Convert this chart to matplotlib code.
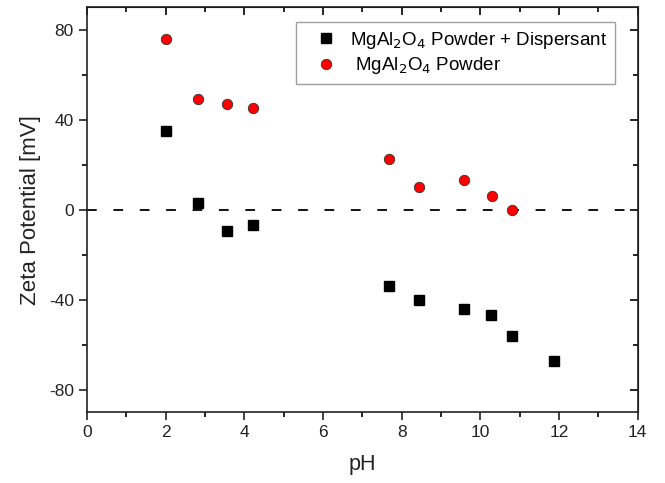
import numpy as np
import matplotlib
matplotlib.use('Agg')
from matplotlib import pyplot as plt

plt.rcParams['font.family'] = ['Liberation Sans', 'DejaVu Sans']
plt.rcParams['lines.scale_dashes'] = False
plt.rcParams['axes.unicode_minus'] = False

# pH values
ph = [2.0, 2.82, 3.55, 4.22, 7.67, 8.45, 9.58, 10.29, 10.8]
ph_disp = [2.0, 2.82, 3.55, 4.22, 7.67, 8.45, 9.57, 10.28, 10.8, 11.86]

# zeta potential [mV]
zeta_powder = [76.1, 49.2, 47.0, 45.0, 22.7, 10.2, 13.3, 6.2, 0.0]
zeta_disp = [35.1, 2.8, -9.3, -6.7, -33.8, -40.0, -44.4, -46.7, -56.3, -67.2]

fig = plt.figure(figsize=(6.65, 4.83), dpi=100)
ax = fig.add_axes([0.131, 0.147, 0.828, 0.838])

ax.axhline(0, color='black', lw=1.3, ls=(0, (7, 12)), zorder=1)
ax.plot(ph_disp, zeta_disp, 's', color='black', ms=6.5, mec='black',
        label=r'MgAl$_2$O$_4$ Powder + Dispersant', zorder=3)
ax.plot(ph, zeta_powder, 'o', color='red', ms=7.5, mec='#333333', mew=0.6,
        label=r' MgAl$_2$O$_4$ Powder', zorder=3)

ax.set_xlim(0, 14)
ax.set_ylim(-90, 90)
ax.set_xticks(np.arange(0, 15, 2))
ax.set_xticks(np.arange(1, 14, 2), minor=True)
ax.set_yticks([-80, -40, 0, 40, 80])
ax.set_yticks([-60, -20, 20, 60], minor=True)
ax.tick_params(which='major', length=6, width=1.2, direction='out', labelsize=12.5, colors='#222222')
ax.tick_params(which='minor', length=3.5, width=1.2, direction='out')
for s in ax.spines.values():
    s.set_linewidth(1.2)
    s.set_color('#222222')

# mirrored ticks on top and right, pointing inside
top = ax.secondary_xaxis('top')
top.set_xticks(np.arange(0, 15, 2))
top.set_xticks(np.arange(1, 14, 2), minor=True)
top.tick_params(which='major', direction='in', length=6, width=1.2, labeltop=False)
top.tick_params(which='minor', direction='in', length=3.5, width=1.2)
right = ax.secondary_yaxis('right')
right.set_yticks([-80, -40, 0, 40, 80])
right.set_yticks([-60, -20, 20, 60], minor=True)
right.tick_params(which='major', direction='in', length=6, width=1.2, labelright=False)
right.tick_params(which='minor', direction='in', length=3.5, width=1.2)

ax.set_xlabel('pH', fontsize=15.5, labelpad=10, color='#222222')
ax.set_ylabel('Zeta Potential [mV]', fontsize=16, labelpad=6, color='#222222')

leg = ax.legend(loc='upper right', bbox_to_anchor=(0.958, 0.963), borderaxespad=0,
                fontsize=13.5, frameon=True, fancybox=False, edgecolor='#888888',
                handletextpad=0.1, handlelength=2.4, borderpad=0.4, labelspacing=0.25)
leg.get_frame().set_linewidth(1.0)

plt.savefig('out.png', dpi=100)
